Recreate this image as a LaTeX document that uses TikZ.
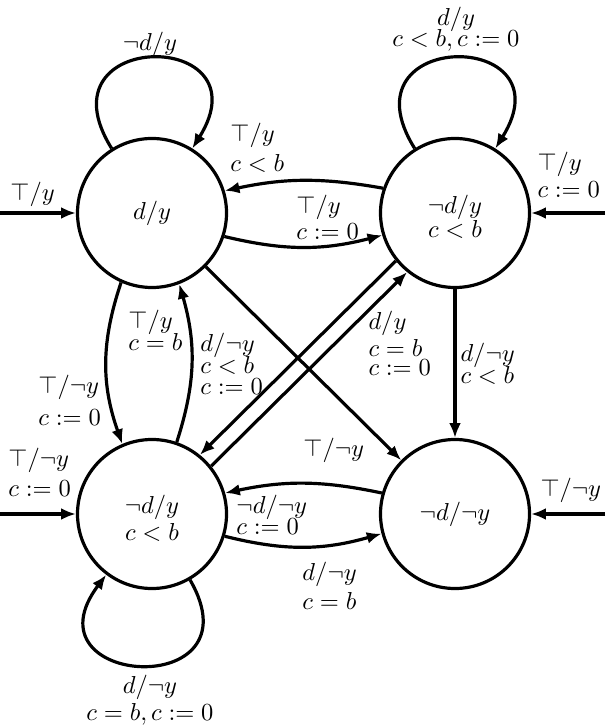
\documentclass[tikz,border=0pt]{standalone}
\usetikzlibrary{arrows.meta}
\begin{document}
\begin{tikzpicture}[x=0.408pt,y=0.408pt,
  state/.style={circle,draw,line width=1.3pt,minimum size=60.8pt,inner sep=0pt,align=center},
  edge/.style={line width=1.3pt,-{Latex[length=6pt,width=4.8pt]}},
  elbl/.style={anchor=north west,inner sep=0pt,align=left},
  llbl/.style={anchor=north,inner sep=0pt,align=center}]
\useasboundingbox (0,0) rectangle (605,-726);
\node[state] (A) at (152,-213) {$d/y$};
\node[state] (B) at (455,-213) {\rule{0pt}{10.7pt}$\neg d/y$\\[-2.5pt]$c<b$};
\node[state] (C) at (152,-514) {\rule{0pt}{10.7pt}$\neg d/y$\\[-1pt]$c<b$};
\node[state] (D) at (455,-514) {$\neg d/\neg y$};
\coordinate (sA) at (0,-213);
\coordinate (sB) at (605,-213);
\coordinate (sC) at (0,-514);
\coordinate (sD) at (605,-514);
\draw[edge] (sA) -- (A);
\draw[edge] (sB) -- (B);
\draw[edge] (sC) -- (C);
\draw[edge] (sD) -- (D);
\draw[edge] (A.122) .. controls +(122:142) and +(58:142) .. (A.58);
\draw[edge] (B.122) .. controls +(122:142) and +(58:142) .. (B.58);
\draw[edge] (C.-60) .. controls +(-60:141) and +(-127:141) .. (C.-127);
\draw[edge] (B.161) to[bend right=11] (A.17);
\draw[edge] (A.-18) to[bend right=14] (B.-163);
\draw[edge] (A.-114) to[bend right=19] (C.113);
\draw[edge] (C.71) to[bend right=17] (A.-69);
\draw[edge] (B.219) -- (C.51);
\draw[edge] (C.39) -- (B.231);
\draw[edge] (A.-45) -- (D.135);
\draw[edge] (B.-90) -- (D.90);
\draw[edge] (D.164) to[bend right=12] (C.16);
\draw[edge] (C.-17) to[bend right=15] (D.-165);
\node[elbl] (l1) at (230,-123) {$\top/y$\\$c<b$};
\node[elbl] (l2) at (296,-195) {$\top/y$\\[-1.6pt]$c:=0$};
\node[elbl] (l3) at (537,-152) {$\top/y$\\[-1pt]$c:=0$};
\node[elbl] (l4) at (38,-375) {$\top/\neg y$\\[1pt]$c:=0$};
\node[elbl] (l5) at (8,-448) {$\top/\neg y$\\$c:=0$};
\node[elbl] (l6) at (128,-310) {$\top/y$\\[-3pt]$c=b$};
\node[elbl] (l7) at (200,-333) {$d/\neg y$\\[-3.2pt]$c<b$\\[-3.6pt]$c:=0$};
\node[elbl] (l8) at (368,-311) {$d/y$\\[-1.3pt]$c=b$\\[-4.2pt]$c:=0$};
\node[elbl] (l9) at (460,-343) {$d/\neg y$\\[-3pt]$c<b$};
\node[elbl] (l10) at (303,-438) {$\top/\neg y$};
\node[elbl] (l11) at (236,-495) {$\neg d/\neg y$\\[-3.6pt]$c:=0$};
\node[elbl] (l12) at (302,-562) {$d/\neg y$\\[-0.3pt]$c=b$};
\node[elbl] (l13) at (540,-478) {$\top/\neg y$};
\node[elbl] (l14) at (10,-182) {$\top/y$};
\node[llbl] (l15) at (150,-32) {$\neg d/y$};
\node[llbl] (l16) at (456,-7) {$d/y$\\[-3.7pt]$c<b, c:=0$};
\node[llbl] (l17) at (150,-675) {$d/\neg y$\\[-1pt]$c=b, c:=0$};
\end{tikzpicture}
\end{document}
